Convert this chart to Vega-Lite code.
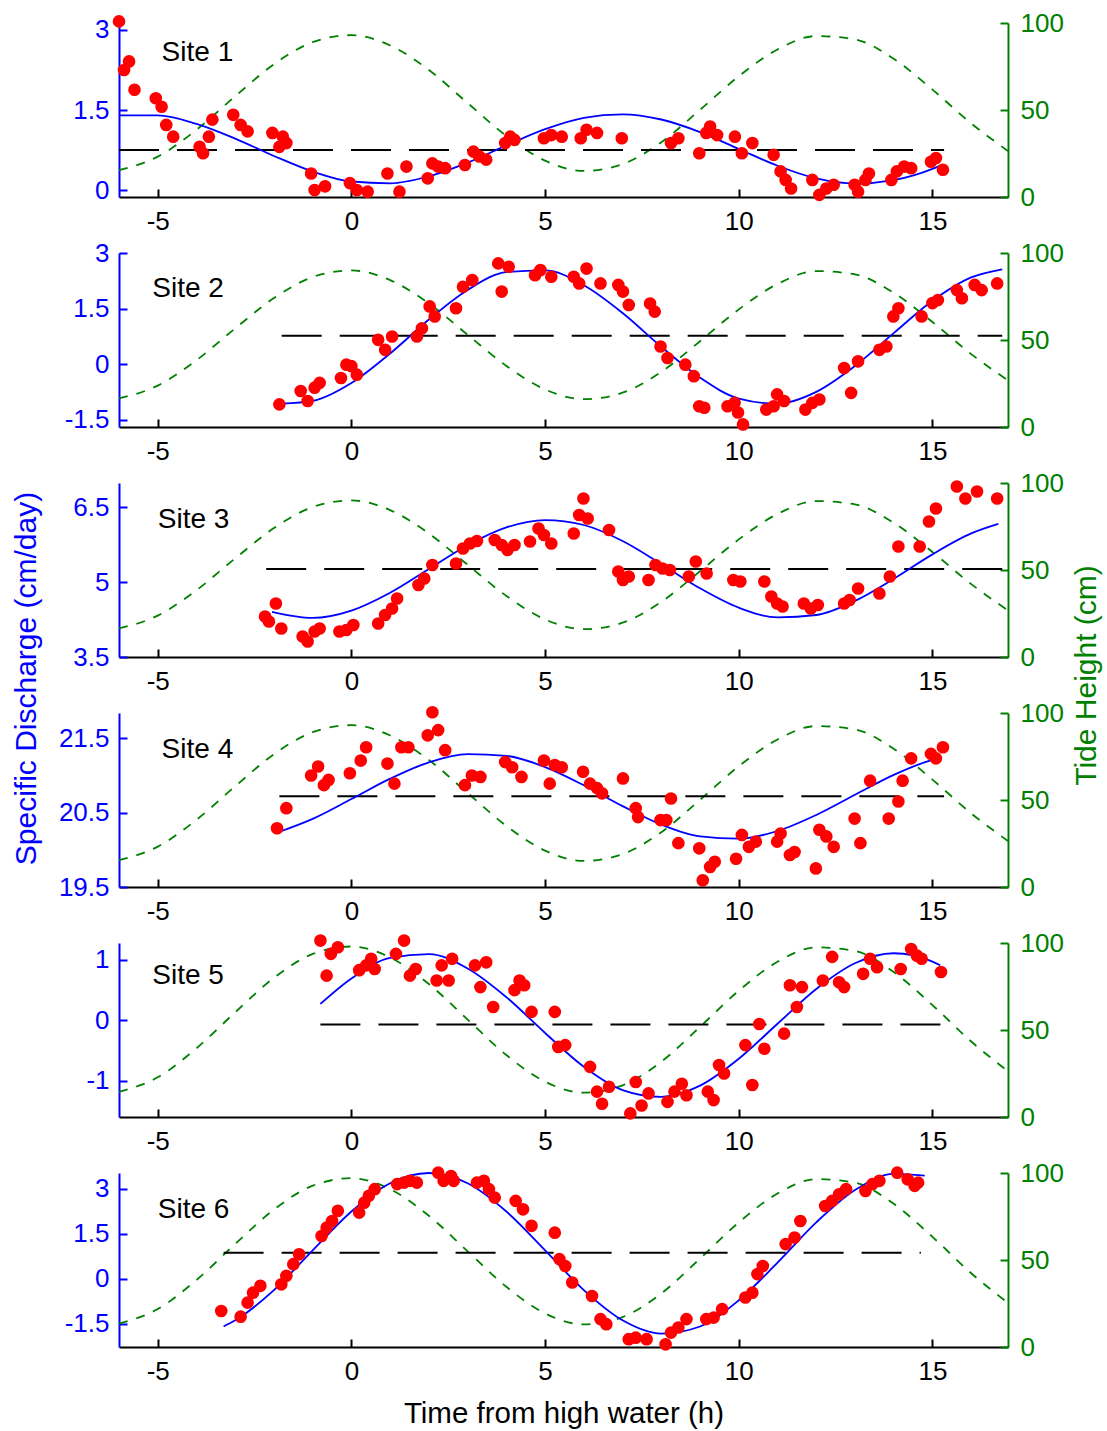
{
"$schema": "https://vega.github.io/schema/vega-lite/v6.json",
"padding": {"left": 10, "top": 10, "right": 5, "bottom": 5},
"autosize": {"type": "pad"},
"spacing": 56,
"bounds": "flush",
"config": {
  "view": {"stroke": null},
  "font": "Liberation Sans",
  "axis": {"grid": false, "labelFont": "Liberation Sans", "titleFont": "Liberation Sans", "labelFontSize": 26, "titleFontSize": 30, "titleFontWeight": "normal", "domainWidth": 2, "tickWidth": 2, "tickSize": -8, "labelFlush": false, "labelOverlap": false},
  "axisLeft": {"domainColor": "#0000FF", "tickColor": "#0000FF", "labelColor": "#0000FF", "titleColor": "#0000FF", "labelPadding": 18},
  "axisRight": {"domainColor": "#008000", "tickColor": "#008000", "labelColor": "#008000", "titleColor": "#008000", "labelPadding": 20},
  "axisBottom": {"domainColor": "#000000", "tickColor": "#000000", "labelColor": "#000000", "titleColor": "#000000", "labelPadding": 19},
  "text": {"font": "Liberation Sans"}
},
"datasets": {
"pts": [
{"s":1,"t":-6.0,"v":3.16},{"s":1,"t":-5.87,"v":2.25},{"s":1,"t":-5.74,"v":2.41},{"s":1,"t":-5.6,"v":1.88},{"s":1,"t":-5.05,"v":1.72},{"s":1,"t":-4.9,"v":1.56},{"s":1,"t":-4.78,"v":1.22},{"s":1,"t":-4.6,"v":1.0},{"s":1,"t":-3.92,"v":0.81},{"s":1,"t":-3.83,"v":0.69},{"s":1,"t":-3.68,"v":1.0},{"s":1,"t":-3.59,"v":1.32},{"s":1,"t":-3.05,"v":1.41},{"s":1,"t":-2.86,"v":1.22},{"s":1,"t":-2.68,"v":1.1},{"s":1,"t":-2.04,"v":1.07},{"s":1,"t":-1.86,"v":0.81},{"s":1,"t":-1.77,"v":1.0},{"s":1,"t":-1.68,"v":0.88},{"s":1,"t":-1.04,"v":0.31},{"s":1,"t":-0.95,"v":0.0},{"s":1,"t":-0.68,"v":0.07},{"s":1,"t":-0.04,"v":0.13},{"s":1,"t":0.14,"v":0.0},{"s":1,"t":0.42,"v":-0.03},{"s":1,"t":0.93,"v":0.31},{"s":1,"t":1.24,"v":-0.03},{"s":1,"t":1.42,"v":0.44},{"s":1,"t":1.97,"v":0.22},{"s":1,"t":2.09,"v":0.5},{"s":1,"t":2.24,"v":0.44},{"s":1,"t":2.42,"v":0.41},{"s":1,"t":2.93,"v":0.47},{"s":1,"t":3.15,"v":0.72},{"s":1,"t":3.3,"v":0.63},{"s":1,"t":3.48,"v":0.57},{"s":1,"t":3.97,"v":0.88},{"s":1,"t":4.1,"v":1.0},{"s":1,"t":4.21,"v":0.94},{"s":1,"t":4.97,"v":0.97},{"s":1,"t":5.16,"v":1.03},{"s":1,"t":5.43,"v":1.0},{"s":1,"t":5.92,"v":0.97},{"s":1,"t":6.07,"v":1.13},{"s":1,"t":6.34,"v":1.07},{"s":1,"t":6.98,"v":0.97},{"s":1,"t":8.25,"v":0.88},{"s":1,"t":8.44,"v":0.97},{"s":1,"t":8.98,"v":0.69},{"s":1,"t":9.16,"v":1.07},{"s":1,"t":9.26,"v":1.19},{"s":1,"t":9.44,"v":1.03},{"s":1,"t":9.9,"v":1.0},{"s":1,"t":10.08,"v":0.69},{"s":1,"t":10.35,"v":0.88},{"s":1,"t":10.9,"v":0.66},{"s":1,"t":11.08,"v":0.35},{"s":1,"t":11.21,"v":0.19},{"s":1,"t":11.35,"v":0.03},{"s":1,"t":11.9,"v":0.19},{"s":1,"t":12.08,"v":-0.09},{"s":1,"t":12.26,"v":0.03},{"s":1,"t":12.45,"v":0.1},{"s":1,"t":12.99,"v":0.1},{"s":1,"t":13.08,"v":-0.03},{"s":1,"t":13.27,"v":0.19},{"s":1,"t":13.36,"v":0.31},{"s":1,"t":13.94,"v":0.19},{"s":1,"t":14.08,"v":0.35},{"s":1,"t":14.27,"v":0.44},{"s":1,"t":14.45,"v":0.41},{"s":1,"t":14.96,"v":0.53},{"s":1,"t":15.09,"v":0.6},{"s":1,"t":15.27,"v":0.38},
{"s":2,"t":-1.86,"v":-1.08},{"s":2,"t":-1.31,"v":-0.72},{"s":2,"t":-1.13,"v":-0.99},{"s":2,"t":-0.95,"v":-0.63},{"s":2,"t":-0.82,"v":-0.5},{"s":2,"t":-0.27,"v":-0.37},{"s":2,"t":-0.13,"v":-0.01},{"s":2,"t":0.0,"v":-0.05},{"s":2,"t":0.14,"v":-0.28},{"s":2,"t":0.69,"v":0.66},{"s":2,"t":0.87,"v":0.39},{"s":2,"t":1.05,"v":0.75},{"s":2,"t":1.69,"v":0.75},{"s":2,"t":1.82,"v":0.97},{"s":2,"t":2.02,"v":1.56},{"s":2,"t":2.15,"v":1.29},{"s":2,"t":2.7,"v":1.51},{"s":2,"t":2.88,"v":2.09},{"s":2,"t":3.12,"v":2.27},{"s":2,"t":3.79,"v":2.72},{"s":2,"t":3.88,"v":1.96},{"s":2,"t":4.06,"v":2.63},{"s":2,"t":4.74,"v":2.4},{"s":2,"t":4.88,"v":2.54},{"s":2,"t":5.16,"v":2.36},{"s":2,"t":5.74,"v":2.36},{"s":2,"t":5.88,"v":2.18},{"s":2,"t":6.07,"v":2.58},{"s":2,"t":6.43,"v":2.18},{"s":2,"t":6.89,"v":2.14},{"s":2,"t":7.01,"v":1.96},{"s":2,"t":7.16,"v":1.6},{"s":2,"t":7.71,"v":1.64},{"s":2,"t":7.83,"v":1.42},{"s":2,"t":7.98,"v":0.48},{"s":2,"t":8.16,"v":0.17},{"s":2,"t":8.62,"v":-0.01},{"s":2,"t":8.84,"v":-0.32},{"s":2,"t":8.98,"v":-1.13},{"s":2,"t":9.11,"v":-1.17},{"s":2,"t":9.71,"v":-1.13},{"s":2,"t":9.89,"v":-1.04},{"s":2,"t":9.98,"v":-1.3},{"s":2,"t":10.11,"v":-1.62},{"s":2,"t":10.71,"v":-1.22},{"s":2,"t":10.9,"v":-1.13},{"s":2,"t":10.99,"v":-0.81},{"s":2,"t":11.17,"v":-0.99},{"s":2,"t":11.72,"v":-1.22},{"s":2,"t":11.9,"v":-1.04},{"s":2,"t":12.08,"v":-0.95},{"s":2,"t":12.72,"v":-0.1},{"s":2,"t":12.9,"v":-0.77},{"s":2,"t":13.08,"v":0.08},{"s":2,"t":13.63,"v":0.39},{"s":2,"t":13.81,"v":0.48},{"s":2,"t":13.99,"v":1.29},{"s":2,"t":14.12,"v":1.51},{"s":2,"t":14.72,"v":1.29},{"s":2,"t":15.0,"v":1.65},{"s":2,"t":15.14,"v":1.73},{"s":2,"t":15.63,"v":2.0},{"s":2,"t":15.76,"v":1.78},{"s":2,"t":16.09,"v":2.14},{"s":2,"t":16.27,"v":2.0},{"s":2,"t":16.67,"v":2.18},
{"s":3,"t":-2.23,"v":4.31},{"s":3,"t":-2.13,"v":4.21},{"s":3,"t":-1.95,"v":4.57},{"s":3,"t":-1.81,"v":4.07},{"s":3,"t":-1.26,"v":3.91},{"s":3,"t":-1.13,"v":3.81},{"s":3,"t":-0.95,"v":4.01},{"s":3,"t":-0.82,"v":4.07},{"s":3,"t":-0.31,"v":4.01},{"s":3,"t":-0.13,"v":4.04},{"s":3,"t":0.05,"v":4.14},{"s":3,"t":0.69,"v":4.17},{"s":3,"t":0.87,"v":4.34},{"s":3,"t":1.05,"v":4.47},{"s":3,"t":1.18,"v":4.67},{"s":3,"t":1.73,"v":4.94},{"s":3,"t":1.88,"v":5.07},{"s":3,"t":2.09,"v":5.34},{"s":3,"t":2.7,"v":5.37},{"s":3,"t":2.88,"v":5.67},{"s":3,"t":3.06,"v":5.77},{"s":3,"t":3.24,"v":5.82},{"s":3,"t":3.7,"v":5.84},{"s":3,"t":3.88,"v":5.74},{"s":3,"t":4.03,"v":5.64},{"s":3,"t":4.21,"v":5.74},{"s":3,"t":4.61,"v":5.81},{"s":3,"t":4.83,"v":6.07},{"s":3,"t":4.97,"v":5.94},{"s":3,"t":5.16,"v":5.77},{"s":3,"t":5.74,"v":5.97},{"s":3,"t":5.88,"v":6.34},{"s":3,"t":5.99,"v":6.67},{"s":3,"t":6.1,"v":6.27},{"s":3,"t":6.65,"v":6.04},{"s":3,"t":6.89,"v":5.21},{"s":3,"t":7.01,"v":5.04},{"s":3,"t":7.16,"v":5.11},{"s":3,"t":7.67,"v":5.04},{"s":3,"t":7.85,"v":5.34},{"s":3,"t":8.03,"v":5.27},{"s":3,"t":8.22,"v":5.24},{"s":3,"t":8.71,"v":5.11},{"s":3,"t":8.89,"v":5.41},{"s":3,"t":9.17,"v":5.17},{"s":3,"t":9.86,"v":5.04},{"s":3,"t":10.04,"v":5.01},{"s":3,"t":10.66,"v":5.01},{"s":3,"t":10.84,"v":4.71},{"s":3,"t":10.99,"v":4.57},{"s":3,"t":11.13,"v":4.51},{"s":3,"t":11.68,"v":4.57},{"s":3,"t":11.86,"v":4.47},{"s":3,"t":12.04,"v":4.54},{"s":3,"t":12.72,"v":4.57},{"s":3,"t":12.86,"v":4.64},{"s":3,"t":13.08,"v":4.87},{"s":3,"t":13.63,"v":4.77},{"s":3,"t":13.9,"v":5.11},{"s":3,"t":14.12,"v":5.71},{"s":3,"t":14.67,"v":5.71},{"s":3,"t":14.91,"v":6.21},{"s":3,"t":15.09,"v":6.47},{"s":3,"t":15.63,"v":6.91},{"s":3,"t":15.85,"v":6.67},{"s":3,"t":16.15,"v":6.81},{"s":3,"t":16.67,"v":6.67},
{"s":4,"t":-1.92,"v":20.29},{"s":4,"t":-1.68,"v":20.56},{"s":4,"t":-1.04,"v":21.0},{"s":4,"t":-0.86,"v":21.12},{"s":4,"t":-0.71,"v":20.87},{"s":4,"t":-0.59,"v":20.94},{"s":4,"t":-0.04,"v":21.03},{"s":4,"t":0.24,"v":21.2},{"s":4,"t":0.38,"v":21.38},{"s":4,"t":0.93,"v":21.16},{"s":4,"t":1.11,"v":20.89},{"s":4,"t":1.29,"v":21.38},{"s":4,"t":1.47,"v":21.38},{"s":4,"t":1.97,"v":21.54},{"s":4,"t":2.09,"v":21.85},{"s":4,"t":2.24,"v":21.61},{"s":4,"t":2.42,"v":21.34},{"s":4,"t":2.93,"v":20.87},{"s":4,"t":3.11,"v":21.0},{"s":4,"t":3.33,"v":20.98},{"s":4,"t":3.97,"v":21.18},{"s":4,"t":4.15,"v":21.11},{"s":4,"t":4.39,"v":20.98},{"s":4,"t":4.97,"v":21.2},{"s":4,"t":5.12,"v":20.89},{"s":4,"t":5.25,"v":21.14},{"s":4,"t":5.43,"v":21.11},{"s":4,"t":5.98,"v":21.05},{"s":4,"t":6.16,"v":20.89},{"s":4,"t":6.34,"v":20.83},{"s":4,"t":6.47,"v":20.76},{"s":4,"t":7.01,"v":20.96},{"s":4,"t":7.34,"v":20.56},{"s":4,"t":7.4,"v":20.44},{"s":4,"t":7.98,"v":20.4},{"s":4,"t":8.13,"v":20.4},{"s":4,"t":8.25,"v":20.69},{"s":4,"t":8.44,"v":20.09},{"s":4,"t":8.98,"v":20.02},{"s":4,"t":9.07,"v":19.59},{"s":4,"t":9.26,"v":19.77},{"s":4,"t":9.38,"v":19.84},{"s":4,"t":9.93,"v":19.88},{"s":4,"t":10.08,"v":20.2},{"s":4,"t":10.26,"v":20.04},{"s":4,"t":10.44,"v":20.11},{"s":4,"t":10.99,"v":20.11},{"s":4,"t":11.08,"v":20.22},{"s":4,"t":11.32,"v":19.93},{"s":4,"t":11.44,"v":19.97},{"s":4,"t":11.99,"v":19.75},{"s":4,"t":12.08,"v":20.27},{"s":4,"t":12.26,"v":20.18},{"s":4,"t":12.45,"v":20.04},{"s":4,"t":12.99,"v":20.42},{"s":4,"t":13.14,"v":20.09},{"s":4,"t":13.39,"v":20.93},{"s":4,"t":13.87,"v":20.42},{"s":4,"t":14.12,"v":20.65},{"s":4,"t":14.23,"v":20.93},{"s":4,"t":14.45,"v":21.23},{"s":4,"t":14.96,"v":21.29},{"s":4,"t":15.09,"v":21.23},{"s":4,"t":15.27,"v":21.38},
{"s":5,"t":-0.8,"v":1.32},{"s":5,"t":-0.64,"v":0.74},{"s":5,"t":-0.53,"v":1.1},{"s":5,"t":-0.35,"v":1.21},{"s":5,"t":0.2,"v":0.83},{"s":5,"t":0.38,"v":0.91},{"s":5,"t":0.51,"v":1.02},{"s":5,"t":0.6,"v":0.85},{"s":5,"t":1.15,"v":1.1},{"s":5,"t":1.36,"v":1.32},{"s":5,"t":1.51,"v":0.74},{"s":5,"t":1.66,"v":0.85},{"s":5,"t":2.2,"v":0.66},{"s":5,"t":2.33,"v":0.91},{"s":5,"t":2.51,"v":0.66},{"s":5,"t":2.6,"v":1.02},{"s":5,"t":3.19,"v":0.91},{"s":5,"t":3.33,"v":0.55},{"s":5,"t":3.48,"v":0.96},{"s":5,"t":3.66,"v":0.22},{"s":5,"t":4.21,"v":0.5},{"s":5,"t":4.34,"v":0.66},{"s":5,"t":4.46,"v":0.58},{"s":5,"t":4.65,"v":0.14},{"s":5,"t":5.25,"v":0.14},{"s":5,"t":5.34,"v":-0.44},{"s":5,"t":5.52,"v":-0.41},{"s":5,"t":6.16,"v":-0.77},{"s":5,"t":6.34,"v":-1.18},{"s":5,"t":6.47,"v":-1.38},{"s":5,"t":6.65,"v":-1.1},{"s":5,"t":7.2,"v":-1.54},{"s":5,"t":7.34,"v":-1.02},{"s":5,"t":7.49,"v":-1.41},{"s":5,"t":7.67,"v":-1.21},{"s":5,"t":8.16,"v":-1.35},{"s":5,"t":8.34,"v":-1.18},{"s":5,"t":8.53,"v":-1.05},{"s":5,"t":8.65,"v":-1.24},{"s":5,"t":9.2,"v":-1.18},{"s":5,"t":9.35,"v":-1.32},{"s":5,"t":9.49,"v":-0.74},{"s":5,"t":9.62,"v":-0.88},{"s":5,"t":10.35,"v":-1.07},{"s":5,"t":10.17,"v":-0.41},{"s":5,"t":10.66,"v":-0.47},{"s":5,"t":10.53,"v":-0.06},{"s":5,"t":11.17,"v":-0.22},{"s":5,"t":11.5,"v":0.22},{"s":5,"t":11.32,"v":0.58},{"s":5,"t":11.63,"v":0.55},{"s":5,"t":12.17,"v":0.66},{"s":5,"t":12.41,"v":1.05},{"s":5,"t":12.59,"v":0.63},{"s":5,"t":12.72,"v":0.55},{"s":5,"t":13.21,"v":0.77},{"s":5,"t":13.39,"v":1.02},{"s":5,"t":13.57,"v":0.88},{"s":5,"t":14.18,"v":0.85},{"s":5,"t":14.45,"v":1.18},{"s":5,"t":14.6,"v":1.07},{"s":5,"t":14.72,"v":1.02},{"s":5,"t":15.22,"v":0.8},
{"s":6,"t":-3.36,"v":-1.07},{"s":6,"t":-2.86,"v":-1.26},{"s":6,"t":-2.68,"v":-0.79},{"s":6,"t":-2.54,"v":-0.46},{"s":6,"t":-2.35,"v":-0.23},{"s":6,"t":-1.81,"v":-0.18},{"s":6,"t":-1.68,"v":0.1},{"s":6,"t":-1.5,"v":0.49},{"s":6,"t":-1.35,"v":0.82},{"s":6,"t":-0.77,"v":1.43},{"s":6,"t":-0.64,"v":1.71},{"s":6,"t":-0.5,"v":1.93},{"s":6,"t":-0.35,"v":2.27},{"s":6,"t":0.2,"v":2.21},{"s":6,"t":0.33,"v":2.54},{"s":6,"t":0.45,"v":2.77},{"s":6,"t":0.6,"v":2.99},{"s":6,"t":1.18,"v":3.16},{"s":6,"t":1.36,"v":3.21},{"s":6,"t":1.51,"v":3.27},{"s":6,"t":1.69,"v":3.21},{"s":6,"t":2.24,"v":3.54},{"s":6,"t":2.38,"v":3.27},{"s":6,"t":2.57,"v":3.43},{"s":6,"t":2.64,"v":3.27},{"s":6,"t":3.24,"v":3.21},{"s":6,"t":3.42,"v":3.27},{"s":6,"t":3.55,"v":2.99},{"s":6,"t":3.7,"v":2.71},{"s":6,"t":4.24,"v":2.6},{"s":6,"t":4.43,"v":2.32},{"s":6,"t":4.65,"v":1.77},{"s":6,"t":5.25,"v":1.54},{"s":6,"t":5.37,"v":0.66},{"s":6,"t":5.52,"v":0.43},{"s":6,"t":5.7,"v":-0.12},{"s":6,"t":6.21,"v":-0.57},{"s":6,"t":6.43,"v":-1.34},{"s":6,"t":6.58,"v":-1.51},{"s":6,"t":7.16,"v":-2.01},{"s":6,"t":7.34,"v":-1.96},{"s":6,"t":7.62,"v":-2.01},{"s":6,"t":8.11,"v":-2.18},{"s":6,"t":8.25,"v":-1.79},{"s":6,"t":8.44,"v":-1.62},{"s":6,"t":8.65,"v":-1.34},{"s":6,"t":9.16,"v":-1.34},{"s":6,"t":9.35,"v":-1.29},{"s":6,"t":9.57,"v":-1.01},{"s":6,"t":10.17,"v":-0.62},{"s":6,"t":10.35,"v":-0.46},{"s":6,"t":10.48,"v":0.16},{"s":6,"t":10.62,"v":0.43},{"s":6,"t":11.21,"v":1.16},{"s":6,"t":11.44,"v":1.38},{"s":6,"t":11.59,"v":1.93},{"s":6,"t":12.23,"v":2.43},{"s":6,"t":12.41,"v":2.6},{"s":6,"t":12.59,"v":2.82},{"s":6,"t":12.77,"v":2.99},{"s":6,"t":13.27,"v":2.93},{"s":6,"t":13.45,"v":3.16},{"s":6,"t":13.63,"v":3.27},{"s":6,"t":14.09,"v":3.54},{"s":6,"t":14.36,"v":3.32},{"s":6,"t":14.54,"v":3.1},{"s":6,"t":14.63,"v":3.21}
],
"fit": [
{"s":1,"t":-6,"v":1.399},{"s":1,"t":-5,"v":1.399},{"s":1,"t":-4,"v":1.241},{"s":1,"t":-3,"v":0.964},{"s":1,"t":-2,"v":0.639},{"s":1,"t":-1,"v":0.347},{"s":1,"t":0,"v":0.16},{"s":1,"t":1,"v":0.127},{"s":1,"t":2,"v":0.257},{"s":1,"t":3,"v":0.514},{"s":1,"t":4,"v":0.836},{"s":1,"t":5,"v":1.141},{"s":1,"t":6,"v":1.354},{"s":1,"t":7,"v":1.419},{"s":1,"t":8,"v":1.322},{"s":1,"t":9,"v":1.086},{"s":1,"t":10,"v":0.77},{"s":1,"t":11,"v":0.455},{"s":1,"t":12,"v":0.218},{"s":1,"t":13,"v":0.121},{"s":1,"t":14,"v":0.186},{"s":1,"t":15,"v":0.396},{"s":1,"t":15.2,"v":0.457},
{"s":2,"t":-1.8,"v":-1.061},{"s":2,"t":-1,"v":-0.986},{"s":2,"t":0,"v":-0.504},{"s":2,"t":1,"v":0.293},{"s":2,"t":2,"v":1.207},{"s":2,"t":3,"v":2.004},{"s":2,"t":4,"v":2.486},{"s":2,"t":5,"v":2.532},{"s":2,"t":6,"v":2.131},{"s":2,"t":7,"v":1.383},{"s":2,"t":8,"v":0.473},{"s":2,"t":9,"v":-0.362},{"s":2,"t":10,"v":-0.923},{"s":2,"t":11,"v":-1.061},{"s":2,"t":12,"v":-0.742},{"s":2,"t":13,"v":-0.045},{"s":2,"t":14,"v":0.841},{"s":2,"t":15,"v":1.711},{"s":2,"t":16,"v":2.341},{"s":2,"t":16.8,"v":2.561},
{"s":3,"t":-2.05,"v":4.402},{"s":3,"t":-1,"v":4.281},{"s":3,"t":0,"v":4.428},{"s":3,"t":1,"v":4.785},{"s":3,"t":2,"v":5.26},{"s":3,"t":3,"v":5.736},{"s":3,"t":4,"v":6.092},{"s":3,"t":5,"v":6.239},{"s":3,"t":6,"v":6.14},{"s":3,"t":7,"v":5.82},{"s":3,"t":8,"v":5.359},{"s":3,"t":9,"v":4.874},{"s":3,"t":10,"v":4.486},{"s":3,"t":11,"v":4.291},{"s":3,"t":12,"v":4.34},{"s":3,"t":13,"v":4.622},{"s":3,"t":14,"v":5.063},{"s":3,"t":15,"v":5.553},{"s":3,"t":16,"v":5.971},{"s":3,"t":16.7,"v":6.161},
{"s":4,"t":-1.86,"v":20.243},{"s":4,"t":-1,"v":20.417},{"s":4,"t":0,"v":20.683},{"s":4,"t":1,"v":20.957},{"s":4,"t":2,"v":21.177},{"s":4,"t":3,"v":21.288},{"s":4,"t":4,"v":21.264},{"s":4,"t":5,"v":21.112},{"s":4,"t":6,"v":20.868},{"s":4,"t":7,"v":20.588},{"s":4,"t":8,"v":20.339},{"s":4,"t":9,"v":20.181},{"s":4,"t":10,"v":20.15},{"s":4,"t":11,"v":20.253},{"s":4,"t":12,"v":20.469},{"s":4,"t":13,"v":20.74},{"s":4,"t":14,"v":21.008},{"s":4,"t":15,"v":21.21},{"s":4,"t":15.2,"v":21.236},
{"s":5,"t":-0.8,"v":0.271},{"s":5,"t":0,"v":0.692},{"s":5,"t":1,"v":1.035},{"s":5,"t":2,"v":1.096},{"s":5,"t":3,"v":0.859},{"s":5,"t":4,"v":0.384},{"s":5,"t":5,"v":-0.209},{"s":5,"t":6,"v":-0.769},{"s":5,"t":7,"v":-1.155},{"s":5,"t":8,"v":-1.268},{"s":5,"t":9,"v":-1.081},{"s":5,"t":10,"v":-0.636},{"s":5,"t":11,"v":-0.057},{"s":5,"t":12,"v":0.519},{"s":5,"t":13,"v":0.945},{"s":5,"t":14,"v":1.11},{"s":5,"t":15,"v":0.973},{"s":5,"t":15.2,"v":0.912},
{"s":6,"t":-3.3,"v":-1.586},{"s":6,"t":-3,"v":-1.38},{"s":6,"t":-2,"v":-0.372},{"s":6,"t":-1,"v":0.954},{"s":6,"t":0,"v":2.246},{"s":6,"t":1,"v":3.187},{"s":6,"t":2,"v":3.53},{"s":6,"t":3,"v":3.187},{"s":6,"t":4,"v":2.246},{"s":6,"t":5,"v":0.954},{"s":6,"t":6,"v":-0.372},{"s":6,"t":7,"v":-1.38},{"s":6,"t":8,"v":-1.822},{"s":6,"t":9,"v":-1.586},{"s":6,"t":10,"v":-0.712},{"s":6,"t":11,"v":0.542},{"s":6,"t":12,"v":1.884},{"s":6,"t":13,"v":2.962},{"s":6,"t":14,"v":3.498},{"s":6,"t":14.8,"v":3.444}
],
"tide": [
{"s":1,"t":-6,"h":15.4},{"s":1,"t":-5,"h":23.2},{"s":1,"t":-4,"h":38.6},{"s":1,"t":-3,"h":57.9},{"s":1,"t":-2,"h":76.3},{"s":1,"t":-1,"h":89.0},{"s":1,"t":0,"h":93.0},{"s":1,"t":1,"h":87.1},{"s":1,"t":2,"h":73.0},{"s":1,"t":3,"h":54.0},{"s":1,"t":4,"h":35.1},{"s":1,"t":5,"h":20.9},{"s":1,"t":6,"h":15.0},{"s":1,"t":7,"h":18.9},{"s":1,"t":8,"h":31.5},{"s":1,"t":9,"h":50.1},{"s":1,"t":10,"h":69.4},{"s":1,"t":11,"h":84.8},{"s":1,"t":12,"h":92.5},{"s":1,"t":13,"h":90.6},{"s":1,"t":14,"h":79.4},{"s":1,"t":15,"h":61.7},{"s":1,"t":16,"h":42.3},{"s":1,"t":16.95,"h":26.4},
{"s":2,"t":-6,"h":16.4},{"s":2,"t":-5,"h":23.8},{"s":2,"t":-4,"h":38.4},{"s":2,"t":-3,"h":56.7},{"s":2,"t":-2,"h":74.1},{"s":2,"t":-1,"h":86.2},{"s":2,"t":0,"h":90.0},{"s":2,"t":1,"h":84.4},{"s":2,"t":2,"h":71.0},{"s":2,"t":3,"h":53.0},{"s":2,"t":4,"h":35.1},{"s":2,"t":5,"h":21.6},{"s":2,"t":6,"h":16.0},{"s":2,"t":7,"h":19.7},{"s":2,"t":8,"h":31.7},{"s":2,"t":9,"h":49.3},{"s":2,"t":10,"h":67.6},{"s":2,"t":11,"h":82.2},{"s":2,"t":12,"h":89.6},{"s":2,"t":13,"h":87.7},{"s":2,"t":14,"h":77.1},{"s":2,"t":15,"h":60.3},{"s":2,"t":16,"h":41.9},{"s":2,"t":16.95,"h":26.8},
{"s":3,"t":-6,"h":16.4},{"s":3,"t":-5,"h":23.8},{"s":3,"t":-4,"h":38.4},{"s":3,"t":-3,"h":56.7},{"s":3,"t":-2,"h":74.1},{"s":3,"t":-1,"h":86.2},{"s":3,"t":0,"h":90.0},{"s":3,"t":1,"h":84.4},{"s":3,"t":2,"h":71.0},{"s":3,"t":3,"h":53.0},{"s":3,"t":4,"h":35.1},{"s":3,"t":5,"h":21.6},{"s":3,"t":6,"h":16.0},{"s":3,"t":7,"h":19.7},{"s":3,"t":8,"h":31.7},{"s":3,"t":9,"h":49.3},{"s":3,"t":10,"h":67.6},{"s":3,"t":11,"h":82.2},{"s":3,"t":12,"h":89.6},{"s":3,"t":13,"h":87.7},{"s":3,"t":14,"h":77.1},{"s":3,"t":15,"h":60.3},{"s":3,"t":16,"h":41.9},{"s":3,"t":16.95,"h":26.8},
{"s":4,"t":-6,"h":15.4},{"s":4,"t":-5,"h":23.2},{"s":4,"t":-4,"h":38.6},{"s":4,"t":-3,"h":57.9},{"s":4,"t":-2,"h":76.3},{"s":4,"t":-1,"h":89.0},{"s":4,"t":0,"h":93.0},{"s":4,"t":1,"h":87.1},{"s":4,"t":2,"h":73.0},{"s":4,"t":3,"h":54.0},{"s":4,"t":4,"h":35.1},{"s":4,"t":5,"h":20.9},{"s":4,"t":6,"h":15.0},{"s":4,"t":7,"h":18.9},{"s":4,"t":8,"h":31.5},{"s":4,"t":9,"h":50.1},{"s":4,"t":10,"h":69.4},{"s":4,"t":11,"h":84.8},{"s":4,"t":12,"h":92.5},{"s":4,"t":13,"h":90.6},{"s":4,"t":14,"h":79.4},{"s":4,"t":15,"h":61.7},{"s":4,"t":16,"h":42.3},{"s":4,"t":16.95,"h":26.4},
{"s":5,"t":-6,"h":14.5},{"s":5,"t":-5,"h":22.8},{"s":5,"t":-4,"h":39.5},{"s":5,"t":-3,"h":60.2},{"s":5,"t":-2,"h":80.0},{"s":5,"t":-1,"h":93.7},{"s":5,"t":0,"h":98.0},{"s":5,"t":1,"h":91.7},{"s":5,"t":2,"h":76.4},{"s":5,"t":3,"h":56.0},{"s":5,"t":4,"h":35.6},{"s":5,"t":5,"h":20.3},{"s":5,"t":6,"h":14.0},{"s":5,"t":7,"h":18.2},{"s":5,"t":8,"h":31.8},{"s":5,"t":9,"h":51.8},{"s":5,"t":10,"h":72.6},{"s":5,"t":11,"h":89.2},{"s":5,"t":12,"h":97.5},{"s":5,"t":13,"h":95.4},{"s":5,"t":14,"h":83.3},{"s":5,"t":15,"h":64.3},{"s":5,"t":16,"h":43.4},{"s":5,"t":16.95,"h":26.3},
{"s":6,"t":-6,"h":13.5},{"s":6,"t":-5,"h":21.8},{"s":6,"t":-4,"h":38.5},{"s":6,"t":-3,"h":59.2},{"s":6,"t":-2,"h":79.0},{"s":6,"t":-1,"h":92.7},{"s":6,"t":0,"h":97.0},{"s":6,"t":1,"h":90.7},{"s":6,"t":2,"h":75.4},{"s":6,"t":3,"h":55.0},{"s":6,"t":4,"h":34.6},{"s":6,"t":5,"h":19.3},{"s":6,"t":6,"h":13.0},{"s":6,"t":7,"h":17.2},{"s":6,"t":8,"h":30.8},{"s":6,"t":9,"h":50.8},{"s":6,"t":10,"h":71.6},{"s":6,"t":11,"h":88.2},{"s":6,"t":12,"h":96.5},{"s":6,"t":13,"h":94.4},{"s":6,"t":14,"h":82.3},{"s":6,"t":15,"h":63.3},{"s":6,"t":16,"h":42.4},{"s":6,"t":16.95,"h":25.3}
]
},
"vconcat": [
{"width": 889, "height": 174, "resolve": {"scale": {"y": "independent"}},
 "layer": [
  {"data": {"name": "tide"}, "transform": [{"filter": "datum.s == 1"}],
   "mark": {"type": "line", "color": "#008000", "strokeWidth": 1.8, "strokeDash": [9, 9], "interpolate": "monotone"},
   "encoding": {"x": {"field": "t", "type": "quantitative", "scale": {"domain": [-6, 16.95], "nice": false, "zero": false}, "axis": {"values": [-5, 0, 5, 10, 15], "labelExpr": "'' + datum.value", "title": null}},
     "y": {"field": "h", "type": "quantitative", "scale": {"domain": [0, 100], "nice": false, "zero": false}, "axis": {"orient": "right", "values": [0, 50, 100], "labelExpr": "'' + datum.value", "title": null}}}},
  {"layer": [
    {"data": {"values": [{"m": 0.75, "a": -6, "b": 15.3}]},
     "mark": {"type": "rule", "color": "#000000", "strokeWidth": 2, "strokeDash": [40, 18]},
     "encoding": {"x": {"field": "a", "type": "quantitative", "scale": {"domain": [-6, 16.95], "nice": false, "zero": false}}, "x2": {"field": "b"},
       "y": {"field": "m", "type": "quantitative", "scale": {"domain": [-0.13, 3.13], "nice": false, "zero": false}, "axis": {"orient": "left", "values": [0, 1.5, 3], "labelExpr": "'' + datum.value", "title": null}}}},
    {"data": {"name": "fit"}, "transform": [{"filter": "datum.s == 1"}],
     "mark": {"type": "line", "color": "#0000FF", "strokeWidth": 1.8, "interpolate": "monotone"},
     "encoding": {"x": {"field": "t", "type": "quantitative", "scale": {"domain": [-6, 16.95], "nice": false, "zero": false}},
       "y": {"field": "v", "type": "quantitative", "scale": {"domain": [-0.13, 3.13], "nice": false, "zero": false}}}},
    {"data": {"name": "pts"}, "transform": [{"filter": "datum.s == 1"}],
     "mark": {"type": "circle", "color": "#FF0000", "size": 160, "opacity": 1},
     "encoding": {"x": {"field": "t", "type": "quantitative", "scale": {"domain": [-6, 16.95], "nice": false, "zero": false}},
       "y": {"field": "v", "type": "quantitative", "scale": {"domain": [-0.13, 3.13], "nice": false, "zero": false}}}},
    {"data": {"values": [{"label": "Site 1"}]},
     "mark": {"type": "text", "align": "left", "baseline": "middle", "fontSize": 28, "color": "#000000", "font": "Liberation Sans"},
     "encoding": {"x": {"datum": -4.9}, "y": {"datum": 2.57}, "text": {"field": "label"}}}
  ]}
 ]},
{"width": 889, "height": 174, "resolve": {"scale": {"y": "independent"}},
 "layer": [
  {"data": {"name": "tide"}, "transform": [{"filter": "datum.s == 2"}],
   "mark": {"type": "line", "color": "#008000", "strokeWidth": 1.8, "strokeDash": [9, 9], "interpolate": "monotone"},
   "encoding": {"x": {"field": "t", "type": "quantitative", "scale": {"domain": [-6, 16.95], "nice": false, "zero": false}, "axis": {"values": [-5, 0, 5, 10, 15], "labelExpr": "'' + datum.value", "title": null}},
     "y": {"field": "h", "type": "quantitative", "scale": {"domain": [0, 100], "nice": false, "zero": false}, "axis": {"orient": "right", "values": [0, 50, 100], "labelExpr": "'' + datum.value", "title": null}}}},
  {"layer": [
    {"data": {"values": [{"m": 0.77, "a": -1.8, "b": 16.8}]},
     "mark": {"type": "rule", "color": "#000000", "strokeWidth": 2, "strokeDash": [40, 18]},
     "encoding": {"x": {"field": "a", "type": "quantitative", "scale": {"domain": [-6, 16.95], "nice": false, "zero": false}}, "x2": {"field": "b"},
       "y": {"field": "m", "type": "quantitative", "scale": {"domain": [-1.69, 3.0], "nice": false, "zero": false}, "axis": {"orient": "left", "values": [-1.5, 0, 1.5, 3], "labelExpr": "'' + datum.value", "title": null}}}},
    {"data": {"name": "fit"}, "transform": [{"filter": "datum.s == 2"}],
     "mark": {"type": "line", "color": "#0000FF", "strokeWidth": 1.8, "interpolate": "monotone"},
     "encoding": {"x": {"field": "t", "type": "quantitative", "scale": {"domain": [-6, 16.95], "nice": false, "zero": false}},
       "y": {"field": "v", "type": "quantitative", "scale": {"domain": [-1.69, 3.0], "nice": false, "zero": false}}}},
    {"data": {"name": "pts"}, "transform": [{"filter": "datum.s == 2"}],
     "mark": {"type": "circle", "color": "#FF0000", "size": 160, "opacity": 1},
     "encoding": {"x": {"field": "t", "type": "quantitative", "scale": {"domain": [-6, 16.95], "nice": false, "zero": false}},
       "y": {"field": "v", "type": "quantitative", "scale": {"domain": [-1.69, 3.0], "nice": false, "zero": false}}}},
    {"data": {"values": [{"label": "Site 2"}]},
     "mark": {"type": "text", "align": "left", "baseline": "middle", "fontSize": 28, "color": "#000000", "font": "Liberation Sans"},
     "encoding": {"x": {"datum": -5.14}, "y": {"datum": 2.04}, "text": {"field": "label"}}}
  ]}
 ]},
{"width": 889, "height": 174, "resolve": {"scale": {"y": "independent"}},
 "layer": [
  {"data": {"name": "tide"}, "transform": [{"filter": "datum.s == 3"}],
   "mark": {"type": "line", "color": "#008000", "strokeWidth": 1.8, "strokeDash": [9, 9], "interpolate": "monotone"},
   "encoding": {"x": {"field": "t", "type": "quantitative", "scale": {"domain": [-6, 16.95], "nice": false, "zero": false}, "axis": {"values": [-5, 0, 5, 10, 15], "labelExpr": "'' + datum.value", "title": null}},
     "y": {"field": "h", "type": "quantitative", "scale": {"domain": [0, 100], "nice": false, "zero": false}, "axis": {"orient": "right", "values": [0, 50, 100], "labelExpr": "'' + datum.value", "title": "Tide Height (cm)", "titleX": 78, "titleY": 192, "titleAngle": 270, "titleAlign": "center", "titleBaseline": "middle"}}}},
  {"layer": [
    {"data": {"values": [{"m": 5.26, "a": -2.2, "b": 16.95}]},
     "mark": {"type": "rule", "color": "#000000", "strokeWidth": 2, "strokeDash": [40, 18]},
     "encoding": {"x": {"field": "a", "type": "quantitative", "scale": {"domain": [-6, 16.95], "nice": false, "zero": false}}, "x2": {"field": "b"},
       "y": {"field": "m", "type": "quantitative", "scale": {"domain": [3.5, 6.98], "nice": false, "zero": false}, "axis": {"orient": "left", "values": [3.5, 5, 6.5], "labelExpr": "'' + datum.value", "title": "Specific Discharge (cm/day)", "titleX": -93, "titleY": 195, "titleAngle": 270, "titleAlign": "center", "titleBaseline": "middle"}}}},
    {"data": {"name": "fit"}, "transform": [{"filter": "datum.s == 3"}],
     "mark": {"type": "line", "color": "#0000FF", "strokeWidth": 1.8, "interpolate": "monotone"},
     "encoding": {"x": {"field": "t", "type": "quantitative", "scale": {"domain": [-6, 16.95], "nice": false, "zero": false}},
       "y": {"field": "v", "type": "quantitative", "scale": {"domain": [3.5, 6.98], "nice": false, "zero": false}}}},
    {"data": {"name": "pts"}, "transform": [{"filter": "datum.s == 3"}],
     "mark": {"type": "circle", "color": "#FF0000", "size": 160, "opacity": 1},
     "encoding": {"x": {"field": "t", "type": "quantitative", "scale": {"domain": [-6, 16.95], "nice": false, "zero": false}},
       "y": {"field": "v", "type": "quantitative", "scale": {"domain": [3.5, 6.98], "nice": false, "zero": false}}}},
    {"data": {"values": [{"label": "Site 3"}]},
     "mark": {"type": "text", "align": "left", "baseline": "middle", "fontSize": 28, "color": "#000000", "font": "Liberation Sans"},
     "encoding": {"x": {"datum": -5.0}, "y": {"datum": 6.24}, "text": {"field": "label"}}}
  ]}
 ]},
{"width": 889, "height": 174, "resolve": {"scale": {"y": "independent"}},
 "layer": [
  {"data": {"name": "tide"}, "transform": [{"filter": "datum.s == 4"}],
   "mark": {"type": "line", "color": "#008000", "strokeWidth": 1.8, "strokeDash": [9, 9], "interpolate": "monotone"},
   "encoding": {"x": {"field": "t", "type": "quantitative", "scale": {"domain": [-6, 16.95], "nice": false, "zero": false}, "axis": {"values": [-5, 0, 5, 10, 15], "labelExpr": "'' + datum.value", "title": null}},
     "y": {"field": "h", "type": "quantitative", "scale": {"domain": [0, 100], "nice": false, "zero": false}, "axis": {"orient": "right", "values": [0, 50, 100], "labelExpr": "'' + datum.value", "title": null}}}},
  {"layer": [
    {"data": {"values": [{"m": 20.72, "a": -1.86, "b": 15.3}]},
     "mark": {"type": "rule", "color": "#000000", "strokeWidth": 2, "strokeDash": [40, 18]},
     "encoding": {"x": {"field": "a", "type": "quantitative", "scale": {"domain": [-6, 16.95], "nice": false, "zero": false}}, "x2": {"field": "b"},
       "y": {"field": "m", "type": "quantitative", "scale": {"domain": [19.5, 21.84], "nice": false, "zero": false}, "axis": {"orient": "left", "values": [19.5, 20.5, 21.5], "labelExpr": "'' + datum.value", "title": null}}}},
    {"data": {"name": "fit"}, "transform": [{"filter": "datum.s == 4"}],
     "mark": {"type": "line", "color": "#0000FF", "strokeWidth": 1.8, "interpolate": "monotone"},
     "encoding": {"x": {"field": "t", "type": "quantitative", "scale": {"domain": [-6, 16.95], "nice": false, "zero": false}},
       "y": {"field": "v", "type": "quantitative", "scale": {"domain": [19.5, 21.84], "nice": false, "zero": false}}}},
    {"data": {"name": "pts"}, "transform": [{"filter": "datum.s == 4"}],
     "mark": {"type": "circle", "color": "#FF0000", "size": 160, "opacity": 1},
     "encoding": {"x": {"field": "t", "type": "quantitative", "scale": {"domain": [-6, 16.95], "nice": false, "zero": false}},
       "y": {"field": "v", "type": "quantitative", "scale": {"domain": [19.5, 21.84], "nice": false, "zero": false}}}},
    {"data": {"values": [{"label": "Site 4"}]},
     "mark": {"type": "text", "align": "left", "baseline": "middle", "fontSize": 28, "color": "#000000", "font": "Liberation Sans"},
     "encoding": {"x": {"datum": -4.9}, "y": {"datum": 21.34}, "text": {"field": "label"}}}
  ]}
 ]},
{"width": 889, "height": 174, "resolve": {"scale": {"y": "independent"}},
 "layer": [
  {"data": {"name": "tide"}, "transform": [{"filter": "datum.s == 5"}],
   "mark": {"type": "line", "color": "#008000", "strokeWidth": 1.8, "strokeDash": [9, 9], "interpolate": "monotone"},
   "encoding": {"x": {"field": "t", "type": "quantitative", "scale": {"domain": [-6, 16.95], "nice": false, "zero": false}, "axis": {"values": [-5, 0, 5, 10, 15], "labelExpr": "'' + datum.value", "title": null}},
     "y": {"field": "h", "type": "quantitative", "scale": {"domain": [0, 100], "nice": false, "zero": false}, "axis": {"orient": "right", "values": [0, 50, 100], "labelExpr": "'' + datum.value", "title": null}}}},
  {"layer": [
    {"data": {"values": [{"m": -0.07, "a": -0.8, "b": 15.3}]},
     "mark": {"type": "rule", "color": "#000000", "strokeWidth": 2, "strokeDash": [40, 18]},
     "encoding": {"x": {"field": "a", "type": "quantitative", "scale": {"domain": [-6, 16.95], "nice": false, "zero": false}}, "x2": {"field": "b"},
       "y": {"field": "m", "type": "quantitative", "scale": {"domain": [-1.6, 1.28], "nice": false, "zero": false}, "axis": {"orient": "left", "values": [-1, 0, 1], "labelExpr": "'' + datum.value", "title": null}}}},
    {"data": {"name": "fit"}, "transform": [{"filter": "datum.s == 5"}],
     "mark": {"type": "line", "color": "#0000FF", "strokeWidth": 1.8, "interpolate": "monotone"},
     "encoding": {"x": {"field": "t", "type": "quantitative", "scale": {"domain": [-6, 16.95], "nice": false, "zero": false}},
       "y": {"field": "v", "type": "quantitative", "scale": {"domain": [-1.6, 1.28], "nice": false, "zero": false}}}},
    {"data": {"name": "pts"}, "transform": [{"filter": "datum.s == 5"}],
     "mark": {"type": "circle", "color": "#FF0000", "size": 160, "opacity": 1},
     "encoding": {"x": {"field": "t", "type": "quantitative", "scale": {"domain": [-6, 16.95], "nice": false, "zero": false}},
       "y": {"field": "v", "type": "quantitative", "scale": {"domain": [-1.6, 1.28], "nice": false, "zero": false}}}},
    {"data": {"values": [{"label": "Site 5"}]},
     "mark": {"type": "text", "align": "left", "baseline": "middle", "fontSize": 28, "color": "#000000", "font": "Liberation Sans"},
     "encoding": {"x": {"datum": -5.14}, "y": {"datum": 0.74}, "text": {"field": "label"}}}
  ]}
 ]},
{"width": 889, "height": 174, "resolve": {"scale": {"y": "independent"}},
 "layer": [
  {"data": {"name": "tide"}, "transform": [{"filter": "datum.s == 6"}],
   "mark": {"type": "line", "color": "#008000", "strokeWidth": 1.8, "strokeDash": [9, 9], "interpolate": "monotone"},
   "encoding": {"x": {"field": "t", "type": "quantitative", "scale": {"domain": [-6, 16.95], "nice": false, "zero": false}, "axis": {"values": [-5, 0, 5, 10, 15], "labelExpr": "'' + datum.value", "title": "Time from high water (h)", "titleFontSize": 29.5, "titleY": 66, "titleBaseline": "middle"}},
     "y": {"field": "h", "type": "quantitative", "scale": {"domain": [0, 100], "nice": false, "zero": false}, "axis": {"orient": "right", "values": [0, 50, 100], "labelExpr": "'' + datum.value", "title": null}}}},
  {"layer": [
    {"data": {"values": [{"m": 0.87, "a": -3.3, "b": 14.7}]},
     "mark": {"type": "rule", "color": "#000000", "strokeWidth": 2, "strokeDash": [40, 18]},
     "encoding": {"x": {"field": "a", "type": "quantitative", "scale": {"domain": [-6, 16.95], "nice": false, "zero": false}}, "x2": {"field": "b"},
       "y": {"field": "m", "type": "quantitative", "scale": {"domain": [-2.27, 3.53], "nice": false, "zero": false}, "axis": {"orient": "left", "values": [-1.5, 0, 1.5, 3], "labelExpr": "'' + datum.value", "title": null}}}},
    {"data": {"name": "fit"}, "transform": [{"filter": "datum.s == 6"}],
     "mark": {"type": "line", "color": "#0000FF", "strokeWidth": 1.8, "interpolate": "monotone"},
     "encoding": {"x": {"field": "t", "type": "quantitative", "scale": {"domain": [-6, 16.95], "nice": false, "zero": false}},
       "y": {"field": "v", "type": "quantitative", "scale": {"domain": [-2.27, 3.53], "nice": false, "zero": false}}}},
    {"data": {"name": "pts"}, "transform": [{"filter": "datum.s == 6"}],
     "mark": {"type": "circle", "color": "#FF0000", "size": 160, "opacity": 1},
     "encoding": {"x": {"field": "t", "type": "quantitative", "scale": {"domain": [-6, 16.95], "nice": false, "zero": false}},
       "y": {"field": "v", "type": "quantitative", "scale": {"domain": [-2.27, 3.53], "nice": false, "zero": false}}}},
    {"data": {"values": [{"label": "Site 6"}]},
     "mark": {"type": "text", "align": "left", "baseline": "middle", "fontSize": 28, "color": "#000000", "font": "Liberation Sans"},
     "encoding": {"x": {"datum": -5.0}, "y": {"datum": 2.3}, "text": {"field": "label"}}}
  ]}
 ]}
]
}
